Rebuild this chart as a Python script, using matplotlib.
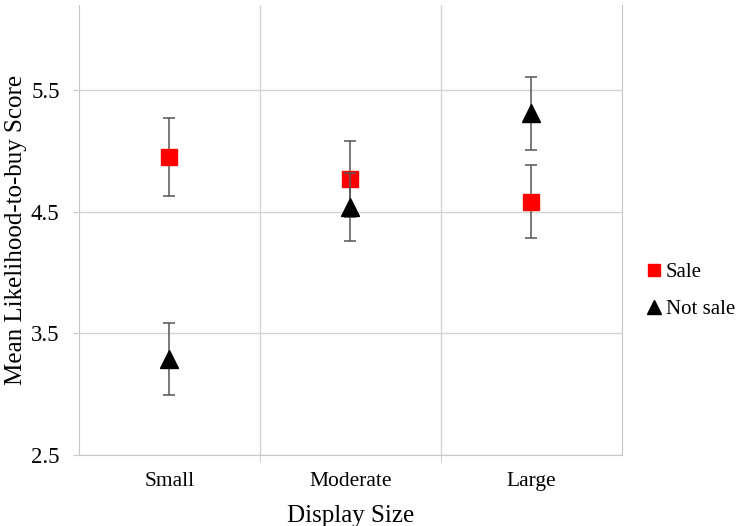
import numpy as np
import matplotlib.pyplot as plt
from matplotlib.lines import Line2D

plt.rcParams['font.family'] = ['Liberation Serif', 'DejaVu Serif']

sizes = ['Small', 'Moderate', 'Large']
sale_mean = [4.95, 4.77, 4.585]
sale_err = [0.32, 0.31, 0.30]
notsale_mean = [3.29, 4.54, 5.31]
notsale_err = [0.30, 0.28, 0.30]

x = np.arange(len(sizes))

fig = plt.figure(figsize=(7.42, 5.26), dpi=100)
ax = fig.add_axes([0.1065, 0.135, 0.7315, 0.855])

ax.errorbar(x, sale_mean, yerr=sale_err, fmt='s', color='#ff0000', markersize=12,
            ecolor='#555555', elinewidth=1.1, capsize=4, capthick=1.1, zorder=3, label='Sale')
ax.errorbar(x, notsale_mean, yerr=notsale_err, fmt='^', color='black', markersize=13,
            ecolor='#555555', elinewidth=1.1, capsize=4, capthick=1.1, zorder=4, label='Not sale')

ax.set_xlim(-0.5, 2.5)
ax.set_ylim(2.5, 6.2)
ax.set_xticks(x)
ax.set_xticklabels(sizes, fontsize=15.5)
ax.set_xticks([0.5, 1.5], minor=True)
ax.set_yticks([2.5, 3.5, 4.5, 5.5])
ax.set_yticklabels(['2.5', '3.5', '4.5', '5.5'], fontsize=16.5)
ax.tick_params(axis='x', which='major', length=0, pad=12)
ax.tick_params(axis='x', which='minor', length=5, color='#c8c8c8')
ax.tick_params(axis='y', length=4, color='#c8c8c8', pad=10)
ax.grid(axis='y', color='#d4d4d4', linewidth=1)
ax.grid(axis='x', which='minor', color='#d4d4d4', linewidth=1)
ax.set_axisbelow(True)
for s in ['left', 'bottom', 'right']:
    ax.spines[s].set_color('#c8c8c8')
ax.spines['top'].set_visible(False)

ax.set_ylabel('Mean Likelihood-to-buy Score', fontsize=18, labelpad=3)
ax.set_xlabel('Display Size', fontsize=18, labelpad=10)

handles = [Line2D([], [], marker='s', color='#ff0000', linestyle='none', markersize=9),
           Line2D([], [], marker='^', color='black', linestyle='none', markersize=10)]
fig.legend(handles, ['Sale', 'Not sale'], loc='center left', bbox_to_anchor=(0.868, 0.447),
           frameon=False, fontsize=15, handletextpad=0.05, labelspacing=0.85, handlelength=1.0,
           borderpad=0, borderaxespad=0)

plt.savefig('out.png', dpi=100)
